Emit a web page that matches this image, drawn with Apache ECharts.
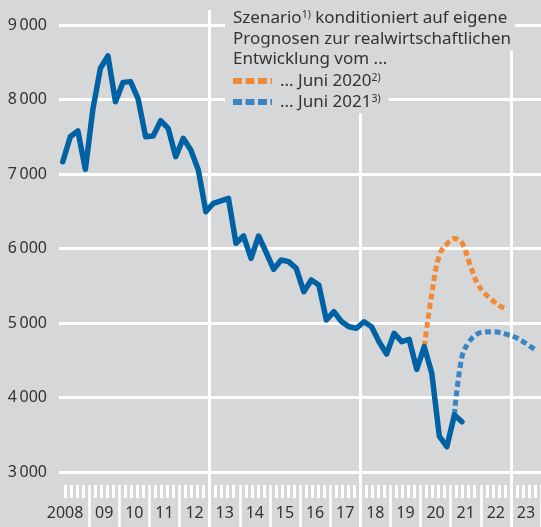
<!DOCTYPE html>
<html><head>
<meta charset="UTF-8">
<title>Szenario</title>
<script src="https://cdn.jsdelivr.net/npm/echarts@6/dist/echarts.min.js"></script>
<style>html,body{margin:0;padding:0;background:#d6d7d9;} #main{width:541px;height:527px;}</style>
</head>
<body>
<div id="main"></div>
<script>
// year labels under the axis
var yearLabels = ['2008','09','10','11','12','13','14','15','16','17','18','19','20','21','22','23'];
// vertical separators
var separatorYears = [2013, 2018, 2023];
// quarterly values, first value is Q1 of the start year
var mainStart = 2008;
var mainValues = [7165, 7500, 7580, 7063,
                  7870, 8420, 8584, 7970,
                  8230, 8240, 8010, 7500,
                  7510, 7715, 7613, 7232,
                  7479, 7322, 7054, 6494,
                  6607, 6640, 6672, 6070,
                  6168, 5868, 6168, 5950,
                  5721, 5846, 5823, 5734,
                  5420, 5577, 5510, 5040,
                  5152, 5020, 4950, 4929,
                  5017, 4950, 4749, 4584,
                  4862, 4749, 4781, 4378,
                  4682, 4325, 3480, 3340,
                  3765, 3675];
var june2020Start = 2020;
var june2020Values = [4682, 5390, 5910, 6060, 6135, 6075, 5805, 5540, 5400, 5310, 5230, 5190];
var june2021Start = 2021;
var june2021Values = [3765, 4545, 4755, 4852, 4879, 4883, 4872, 4846, 4812, 4758, 4691, 4624];

var bg = '#d6d7d9';
var txt = '#333333';
var fontName = 'Noto Sans';

function toPoints(start, vals) {
	return vals.map(function (v, i) { return [start + (i + 0.5) / 4, v]; });
}
function thousands(v) {
	return String(v).replace(/\B(?=(\d{3})+(?!\d))/g, '\u2009');
}
// one line of the note, with a background box that hides the grid behind it
function noteLine(text, x, y, padLeft) {
	return {
		type: 'text', x: x - padLeft, y: y, z: 100,
		style: {
			text: text, fill: txt, fontSize: 17, fontFamily: fontName,
			verticalAlign: 'middle', backgroundColor: bg, padding: [3, 8, 3, padLeft],
			rich: {s: {fontSize: 10.5, fontFamily: fontName, fill: txt, verticalAlign: 'top'}}
		}
	};
}

var chart = echarts.init(document.getElementById('main'));
chart.setOption({
	backgroundColor: bg,
	animation: false,
	grid: [
		{left: 59, right: 0, top: 25, bottom: 55, outerBoundsMode: 'none'},
		{left: 59, right: 0, top: 10, bottom: 0, outerBoundsMode: 'none'}
	],
	xAxis: [
		{type: 'value', gridIndex: 0, min: 2008, max: 2024, interval: 1, position: 'bottom', offset: 13,
			axisLine: {show: false}, axisTick: {show: false}, axisLabel: {show: false}, splitLine: {show: false},
			minorTick: {show: true, splitNumber: 5, length: 13, lineStyle: {color: '#fff', width: 3}}},
		{type: 'category', gridIndex: 0, data: yearLabels, boundaryGap: true, position: 'bottom', offset: 13,
			axisLine: {show: false},
			axisTick: {show: true, length: 42, interval: function (i) { return i > 0; }, lineStyle: {color: '#fff', width: 2.5}},
			axisLabel: {interval: 0, margin: 20, color: txt, fontSize: 16, fontFamily: fontName,
				formatter: function (v, i) { return i === 0 ? '{f|' + v + '}' : v; },
				rich: {f: {fontSize: 16, fontFamily: fontName, color: txt, padding: [0, 18, 0, 0]}}},
			splitLine: {show: false}},
		{type: 'value', gridIndex: 1, min: 2008, max: 2024, show: false}
	],
	yAxis: [
		{type: 'value', gridIndex: 0, min: 3000, max: 9000, interval: 1000,
			axisLine: {show: false}, axisTick: {show: false},
			axisLabel: {margin: 12, color: txt, fontSize: 16, fontFamily: fontName, formatter: thousands},
			splitLine: {lineStyle: {color: '#fff', width: 3}}},
		{type: 'value', gridIndex: 1, min: 0, max: 1, show: false}
	],
	series: [
		{type: 'line', xAxisIndex: 2, yAxisIndex: 1, data: [[2008, 5]], symbol: 'none', silent: true, z: 1,
			lineStyle: {width: 0},
			markLine: {silent: true, z: 1, symbol: ['none', 'none'], label: {show: false},
				lineStyle: {color: '#fff', width: 3, type: 'solid'},
				data: separatorYears.map(function (y) { return {xAxis: y}; })}},
		{name: 'Juni 2020', type: 'line', data: toPoints(june2020Start, june2020Values), smooth: 0.4,
			symbol: 'none', z: 3, lineStyle: {color: '#f18a36', width: 5, type: [6, 3.5]}},
		{name: 'Juni 2021', type: 'line', data: toPoints(june2021Start, june2021Values), smooth: 0.4,
			symbol: 'none', z: 3, lineStyle: {color: '#3b85c3', width: 5, type: [6, 3.5]}},
		{name: 'Ist', type: 'line', data: toPoints(mainStart, mainValues),
			symbol: 'none', z: 4, lineStyle: {color: '#0062a3', width: 5.5, join: 'round', cap: 'round'}}
	],
	graphic: [
		noteLine('Szenario{s|1)} konditioniert auf eigene', 233, 18, 8),
		noteLine('Prognosen zur realwirtschaftlichen', 233, 39, 8),
		noteLine('Entwicklung vom ...', 233, 59, 8),
		noteLine('... Juni 2020{s|2)}', 280, 81, 55),
		noteLine('... Juni 2021{s|3)}', 280, 102, 55),
		{type: 'line', z: 101, shape: {x1: 233, y1: 81, x2: 272, y2: 81},
			style: {stroke: '#f18a36', lineWidth: 6, lineDash: [9, 3.5]}},
		{type: 'line', z: 101, shape: {x1: 233, y1: 102, x2: 272, y2: 102},
			style: {stroke: '#3b85c3', lineWidth: 6, lineDash: [9, 3.5]}}
	]
});
</script>
</body>
</html>
